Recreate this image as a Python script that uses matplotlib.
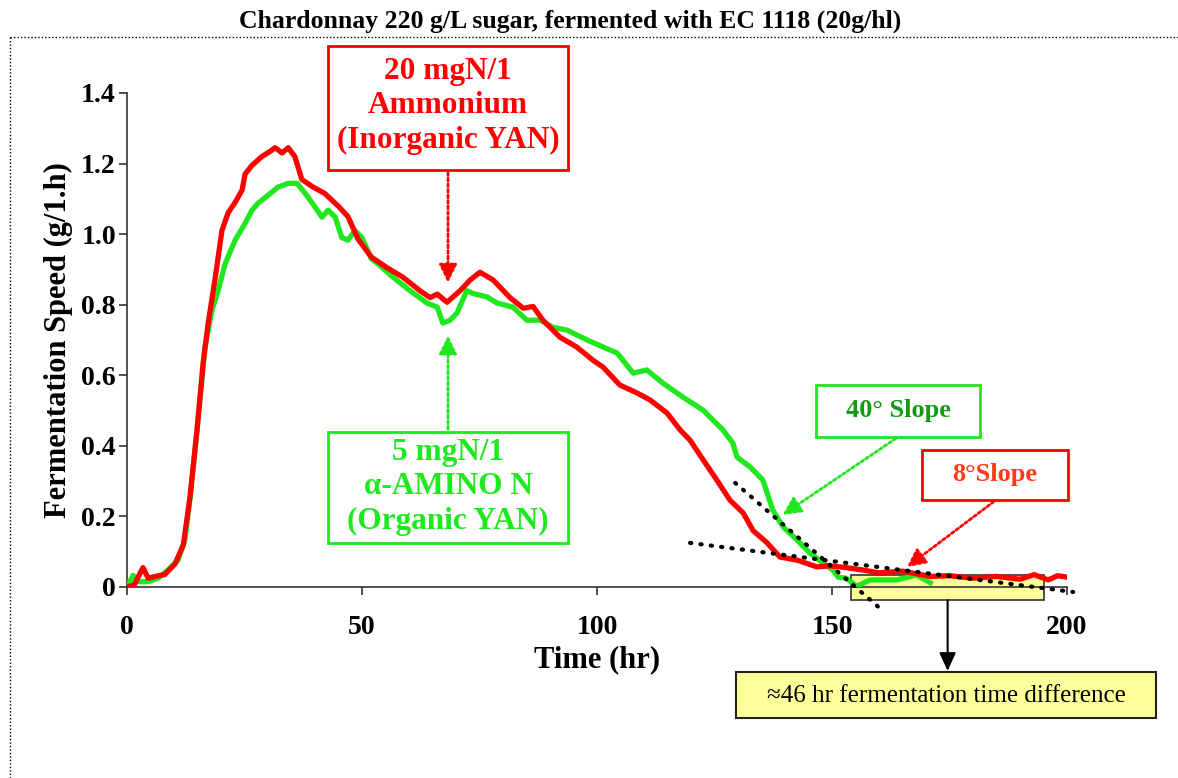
import matplotlib
matplotlib.use("Agg")
import matplotlib.pyplot as plt
from matplotlib.patches import Rectangle
from matplotlib.lines import Line2D

# fermentation speed readings (time in hr, speed in g/l.h)
red_time = [0, 1.5, 3.4, 4.5, 6, 8, 10.2, 12, 13.4, 14.9, 16.2, 17.3, 18.7, 20.2, 21.5, 23,
            24.5, 25.1, 26.6, 28.7, 30.5, 31.5, 33, 34.3, 35.7, 37.2, 39.4, 42.1, 44.9, 47,
            49.2, 52, 55.3, 58.7, 62.3, 64.5, 66, 68.1, 70.9, 73, 75.1, 77.9, 81.5, 84.3,
            86.4, 88.5, 92.1, 95.7, 99.1, 101.3, 104.9, 108.5, 111.3, 114.9, 117.7, 119.8,
            122.6, 125.5, 128.3, 131.1, 133.2, 136.2, 138.9, 142.6, 146.8, 149.6, 153,
            156.6, 160, 165, 170.9, 175, 180, 185, 190, 193, 196, 198, 200]
red_speed = [0.0, 0.005, 0.055, 0.025, 0.03, 0.035, 0.065, 0.12, 0.255, 0.445, 0.635, 0.75,
             0.87, 1.01, 1.06, 1.09, 1.125, 1.17, 1.195, 1.22, 1.235, 1.245, 1.23, 1.245,
             1.22, 1.155, 1.135, 1.115, 1.08, 1.05, 0.985, 0.935, 0.905, 0.878, 0.84, 0.82,
             0.83, 0.807, 0.84, 0.87, 0.892, 0.87, 0.82, 0.79, 0.795, 0.756, 0.708, 0.68,
             0.643, 0.623, 0.572, 0.55, 0.53, 0.493, 0.445, 0.416, 0.36, 0.303, 0.246, 0.21,
             0.16, 0.125, 0.085, 0.076, 0.057, 0.06, 0.055, 0.048, 0.04, 0.045, 0.03, 0.032,
             0.025, 0.03, 0.022, 0.035, 0.02, 0.032, 0.028]

green_time = [0, 1.3, 2.5, 4.5, 6.6, 8.7, 10.9, 12.3, 13.5, 15, 16.6, 18.1, 19.4, 20.9, 23,
              25.1, 26.6, 27.9, 30, 32.1, 34.3, 36.2, 37.9, 40, 41.5, 42.8, 44.3, 45.7, 47,
              48.5, 50, 52, 53.2, 56.6, 60.2, 63.8, 66, 67.2, 68.7, 70.2, 72.3, 73.6, 76.6,
              78.7, 82.1, 85.1, 87.9, 90.6, 93.6, 97.9, 101.3, 104.3, 107.7, 110.6, 114,
              118.3, 122.6, 126.8, 128.9, 129.8, 132.6, 135.3, 137.4, 139.6, 142.6, 145.3,
              148.1, 150.2, 151.3, 153, 155.3, 158.1, 163.8, 168, 170.9]
green_speed = [0.0, 0.033, 0.015, 0.015, 0.025, 0.048, 0.077, 0.133, 0.26, 0.46, 0.68, 0.785,
               0.84, 0.917, 0.983, 1.03, 1.068, 1.088, 1.11, 1.133, 1.144, 1.144, 1.116,
               1.077, 1.048, 1.068, 1.048, 0.99, 0.983, 1.01, 0.99, 0.93, 0.918, 0.878, 0.84,
               0.805, 0.793, 0.748, 0.756, 0.776, 0.84, 0.832, 0.822, 0.805, 0.793, 0.756,
               0.756, 0.736, 0.728, 0.70, 0.68, 0.663, 0.606, 0.615, 0.578, 0.538, 0.501,
               0.445, 0.408, 0.368, 0.34, 0.303, 0.218, 0.17, 0.133, 0.096, 0.068, 0.048,
               0.028, 0.025, 0.002, 0.02, 0.02, 0.034, 0.012]

# slope guide lines (two end points each)
steep_t = [129.4, 160.6]
steep_v = [0.295, -0.065]
shallow_t = [119.8, 201.3]
shallow_v = [0.125, -0.014]

x_ticks = [0, 50, 100, 150, 200]
y_ticks = [0, 0.2, 0.4, 0.6, 0.8, 1.0, 1.2, 1.4]
y_labels = ["0", "0.2", "0.4", "0.6", "0.8", "1.0", "1.2", "1.4"]

W, H = 1178, 778
RED = "#ff0000"
GREEN = "#1fe81f"
SERIF = ["Liberation Serif", "DejaVu Serif"]
HEAD = "-|>,head_length=1.1,head_width=0.55"


def fx(px):
    return px / W


def fy(py):
    return 1 - py / H


plt.rcParams["font.family"] = SERIF
fig = plt.figure(figsize=(W / 100, H / 100), dpi=100)
ax = fig.add_axes([fx(127), fy(587), fx(1067) - fx(127), fy(93) - fy(587)])

# highlight box for the tail difference
ax.add_patch(Rectangle((154, -0.037), 41.2, 0.071, facecolor="#ffff99", edgecolor="#333333",
                       lw=1.2, clip_on=False, zorder=1))

ax.plot(green_time, green_speed, color=GREEN, lw=3.8, zorder=3, solid_joinstyle="round")
ax.plot(red_time, red_speed, color=RED, lw=3.8, zorder=4, solid_joinstyle="round")

ax.plot(steep_t, steep_v, color="black", ls=(0, (0.3, 2.2)), lw=3, dash_capstyle="round",
        clip_on=False, zorder=5)
ax.plot(shallow_t, shallow_v, color="black", ls=(0, (0.3, 2.2)), lw=3, dash_capstyle="round",
        clip_on=False, zorder=5)

ax.set_xlim(0, 200)
ax.set_ylim(0, 1.4)
ax.set_xticks(x_ticks)
ax.set_yticks(y_ticks)
ax.set_yticklabels(y_labels)
for s in ["top", "right"]:
    ax.spines[s].set_visible(False)
for s in ["left", "bottom"]:
    ax.spines[s].set_color("#333333")
    ax.spines[s].set_linewidth(1.2)
ax.tick_params(length=6, width=1.2, color="#333333", labelsize=20)
ax.tick_params(axis="x", pad=14)
ax.tick_params(axis="y", pad=2)
for lab in ax.get_xticklabels() + ax.get_yticklabels():
    lab.set_fontweight("bold")
ax.set_xlabel("Time (hr)", fontsize=22, fontweight="bold", labelpad=4)
ax.set_ylabel("Fermentation Speed (g/1.h)", fontsize=22, fontweight="bold", labelpad=6)

fig.text(fx(570), fy(21), "Chardonnay 220 g/L sugar, fermented with EC 1118 (20g/hl)",
         ha="center", va="center", fontsize=18.5, fontweight="bold")

# dotted frame
fig.add_artist(Line2D([fx(10), 1], [fy(37), fy(37)], color="black", lw=1, ls=(0, (1, 1.5))))
fig.add_artist(Line2D([fx(10), fx(10)], [0, fy(37)], color="black", lw=1, ls=(0, (1, 1.5))))


def box(x0, y0, x1, y1, edge, face="white", lw=2):
    fig.add_artist(Rectangle((fx(x0), fy(y1)), fx(x1) - fx(x0), fy(y0) - fy(y1),
                             transform=fig.transFigure, facecolor=face, edgecolor=edge,
                             lw=lw, zorder=6))


# nitrogen boxes
box(328, 46, 568, 170, RED)
fig.text(fx(448), fy(106), "20 mgN/1\nAmmonium\n(Inorganic YAN)", ha="center", va="center",
         color=RED, fontsize=22.5, fontweight="bold", linespacing=1.26, zorder=7)
ax.annotate("", xy=(68.3, 0.855), xytext=(fx(448), fy(170)), textcoords="figure fraction",
            arrowprops=dict(arrowstyle=HEAD, color=RED, lw=2, ls=(0, (1, 1))), zorder=7)

box(328, 432, 568, 543, GREEN)
fig.text(fx(448), fy(487), "5 mgN/1\n\u03b1-AMINO N\n(Organic YAN)", ha="center", va="center",
         color=GREEN, fontsize=22.5, fontweight="bold", linespacing=1.26, zorder=7)
ax.annotate("", xy=(68.3, 0.72), xytext=(fx(448), fy(432)), textcoords="figure fraction",
            arrowprops=dict(arrowstyle=HEAD, color=GREEN, lw=2, ls=(0, (1, 1))), zorder=7)

# slope boxes
box(816, 385, 980, 437, GREEN)
fig.text(fx(898), fy(411), "40\u00b0 Slope", ha="center", va="center", color="#139a13",
         fontsize=19, fontweight="bold", zorder=7)
ax.annotate("", xy=(139, 0.2), xytext=(fx(898), fy(437)), textcoords="figure fraction",
            arrowprops=dict(arrowstyle=HEAD, color=GREEN, lw=2, ls=(0, (1, 1))), zorder=7)

box(922, 450, 1068, 500, RED)
fig.text(fx(995), fy(475), "8\u00b0Slope", ha="center", va="center", color="#ff3a1a",
         fontsize=19, fontweight="bold", zorder=7)
ax.annotate("", xy=(165.5, 0.052), xytext=(fx(996), fy(500)), textcoords="figure fraction",
            arrowprops=dict(arrowstyle=HEAD, color=RED, lw=2, ls=(0, (1, 1))), zorder=7)

# time difference note
box(736, 672, 1156, 718, "#222222", face="#ffff99", lw=1.5)
fig.text(fx(946), fy(696), "\u224846 hr fermentation time difference", ha="center", va="center",
         fontsize=18, zorder=7)
ax.annotate("", xy=(174.6, -0.238), xytext=(174.6, -0.037), annotation_clip=False,
            arrowprops=dict(arrowstyle="-|>,head_length=1.1,head_width=0.5", color="black",
                            lw=1.5, shrinkA=0, shrinkB=0), zorder=7)

fig.savefig("out.png", dpi=100)
